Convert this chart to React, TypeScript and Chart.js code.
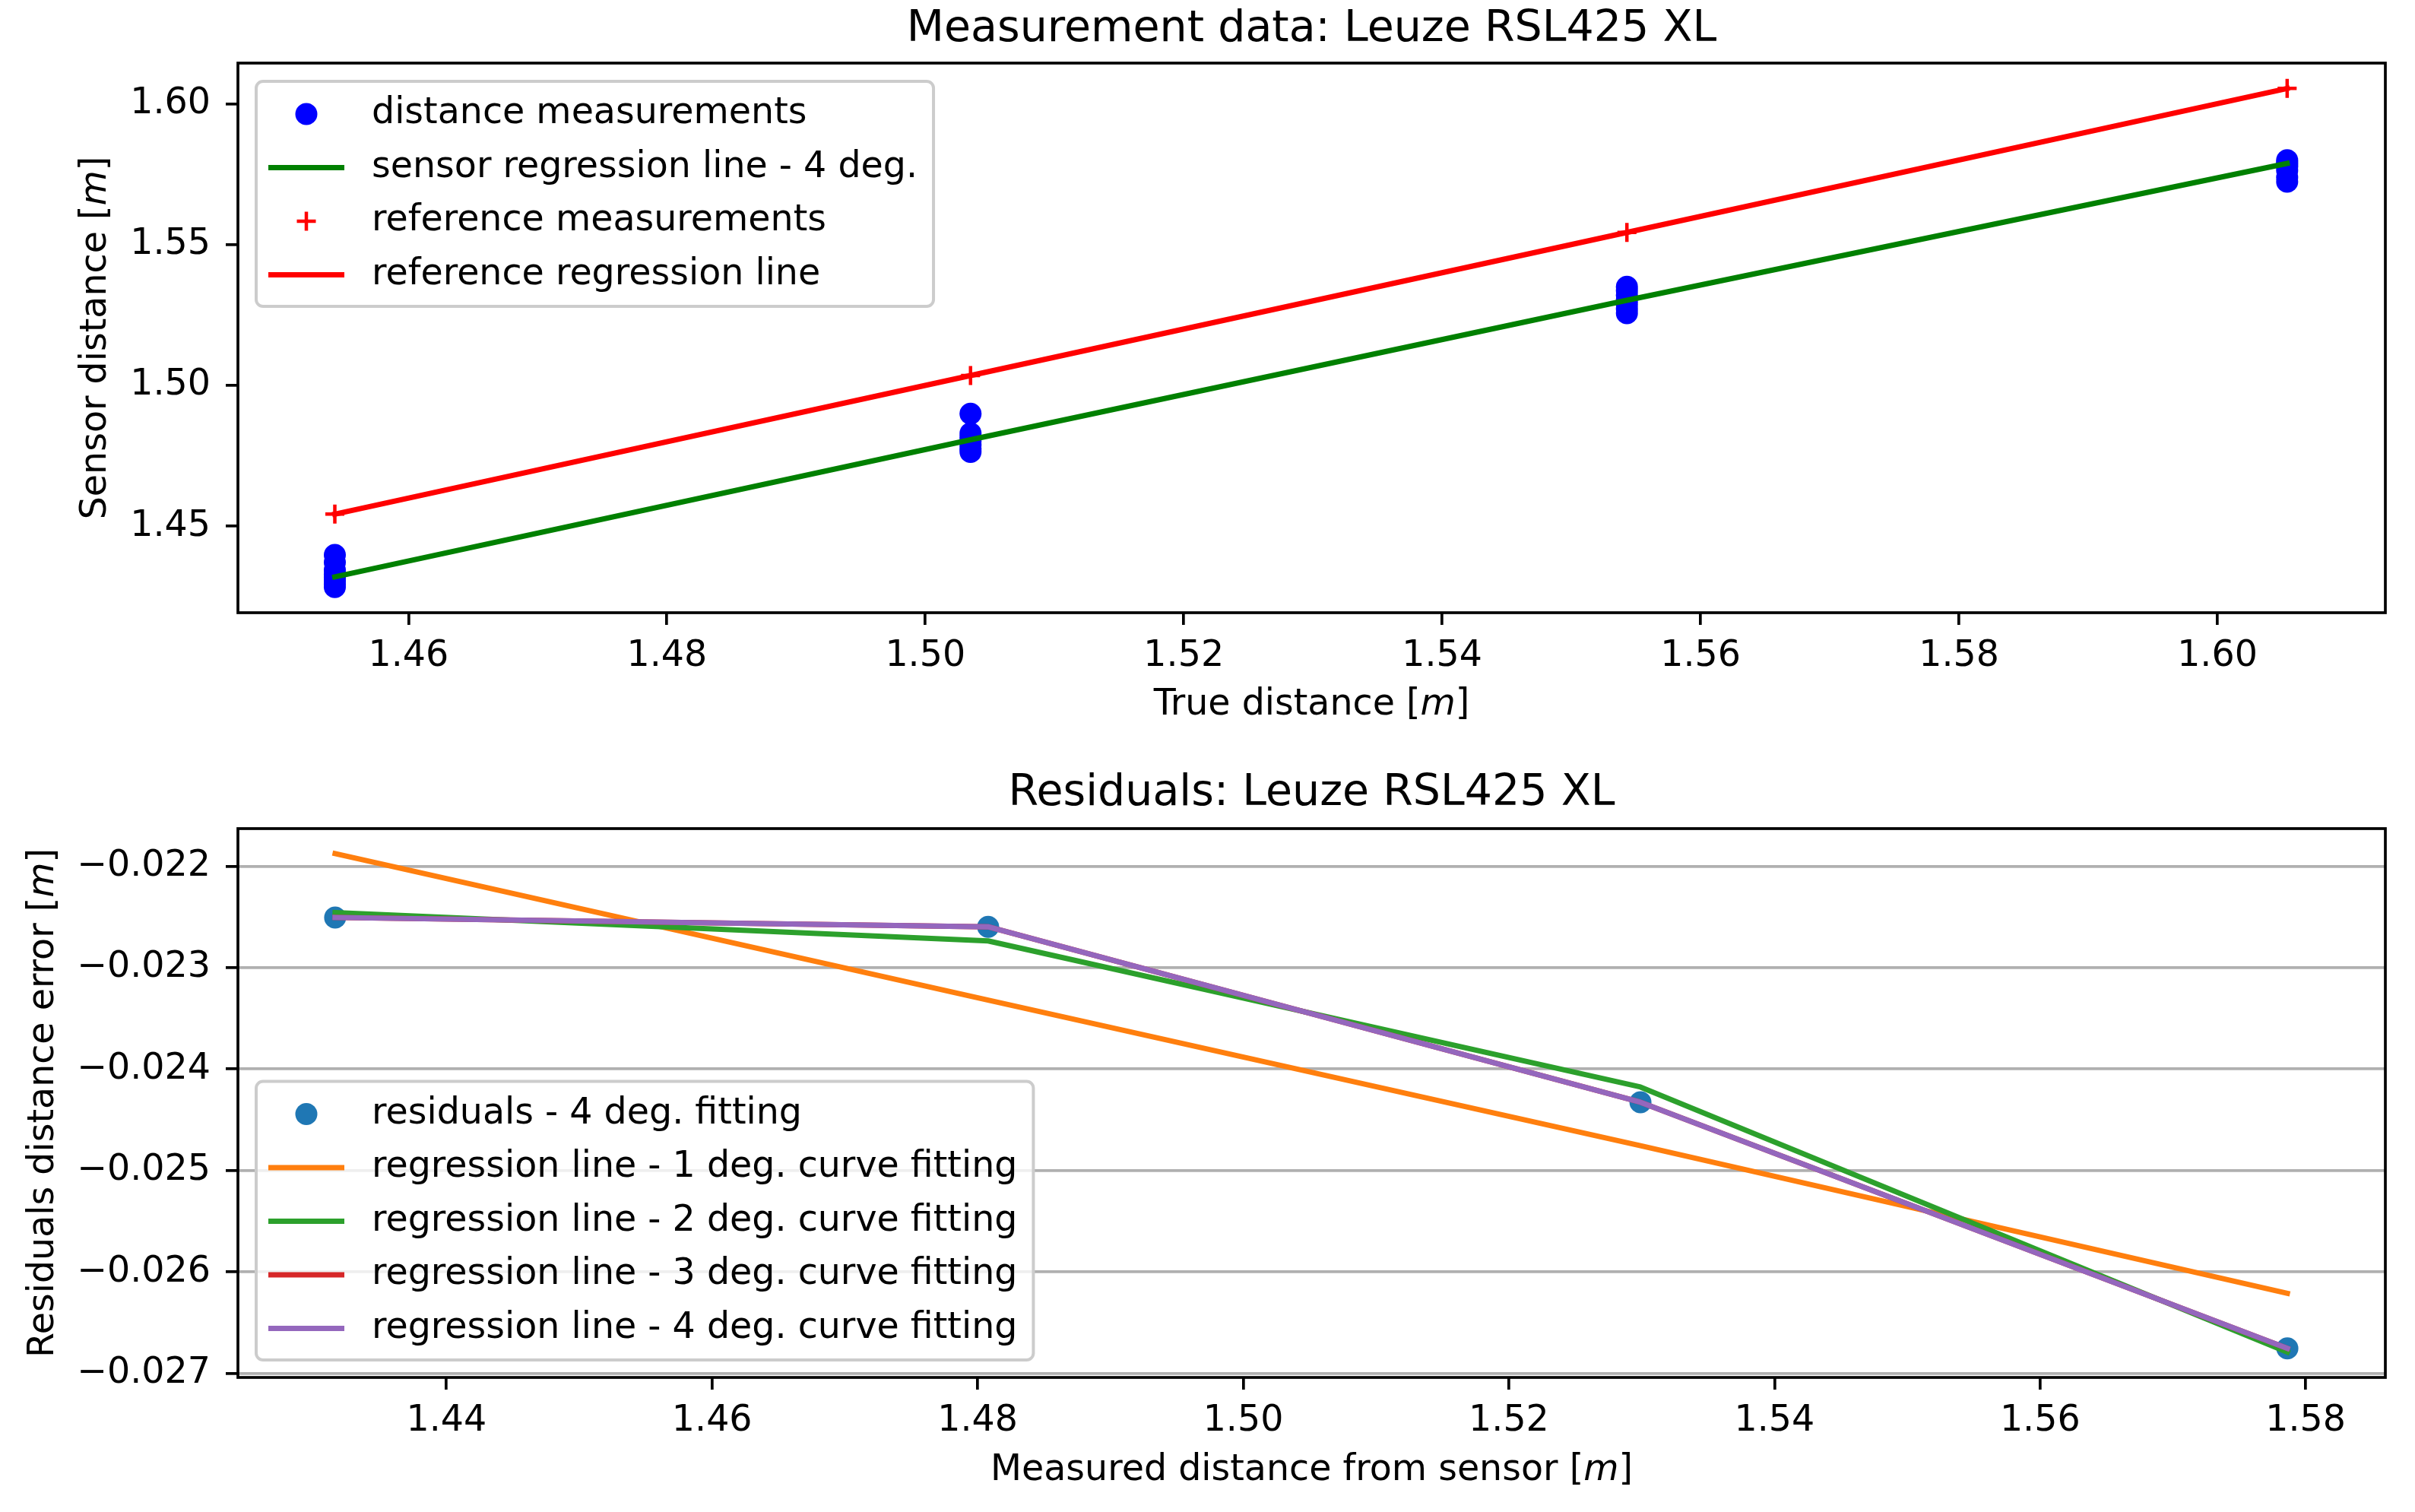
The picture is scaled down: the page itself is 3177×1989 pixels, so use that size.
import React, { useEffect, useRef } from 'react';
import { Chart, registerables } from 'chart.js';

Chart.register(...registerables);

// ---------------- data ----------------
const trueDistances = [1.4543, 1.5035, 1.5543, 1.6054];
const measurementsAt1 = [1.4284, 1.4295, 1.4306, 1.4318, 1.433, 1.4345, 1.4372, 1.4398];
const measurementsAt2 = [1.4899, 1.483, 1.4816, 1.4802, 1.4788, 1.4775, 1.4764];
const measurementsAt3 = [1.535, 1.5336, 1.532, 1.5303, 1.5287, 1.5271, 1.5256];
const measurementsAt4 = [1.5799, 1.5791, 1.5783, 1.5776, 1.5762, 1.5738, 1.5723];
const sensorRegression = [1.432, 1.4807, 1.5302, 1.5788];
const referenceMeasurements = [1.4543, 1.5035, 1.5543, 1.6054];

const measuredDistances = [1.43162, 1.48079, 1.52991, 1.57862];
const residuals4 = [-0.022506, -0.022598, -0.024327, -0.026754];
const fit1 = [-0.021876, -0.02332, -0.024756, -0.026211];
const fit2 = [-0.022458, -0.022737, -0.024177, -0.026791];
const fit3 = [-0.022506, -0.022598, -0.024327, -0.026754];
const fit4 = [-0.022506, -0.022598, -0.024327, -0.026754];

const topXTicks = [1.46, 1.48, 1.5, 1.52, 1.54, 1.56, 1.58, 1.6];
const topYTicks = [1.45, 1.5, 1.55, 1.6];
const botXTicks = [1.44, 1.46, 1.48, 1.5, 1.52, 1.54, 1.56, 1.58];
const botYTicks = [-0.027, -0.026, -0.025, -0.024, -0.023, -0.022];

const topTitle = 'Measurement data: Leuze RSL425 XL';
const botTitle = 'Residuals: Leuze RSL425 XL';
const topXLabel = [{ t: 'True distance [' }, { t: 'm', i: true }, { t: ']' }];
const topYLabel = [{ t: 'Sensor distance [' }, { t: 'm', i: true }, { t: ']' }];
const botXLabel = [{ t: 'Measured distance from sensor [' }, { t: 'm', i: true }, { t: ']' }];
const botYLabel = [{ t: 'Residuals distance error [' }, { t: 'm', i: true }, { t: ']' }];

// ---------------- style ----------------
const FONT = '"DejaVu Sans"';
const TICK_FS = 47.5;
const TITLE_FS = 57;
const LW = 7;
const SPINE = 3.7;
const W = 3177;
const TOP_H = 995;
const BOT_H = 994;

type Seg = { t: string; i?: boolean };

function drawSegs(ctx: CanvasRenderingContext2D, segs: Seg[], cx: number, cy: number, rot: number) {
  ctx.save();
  ctx.translate(cx, cy);
  ctx.rotate(rot);
  ctx.textBaseline = 'middle';
  ctx.textAlign = 'left';
  ctx.fillStyle = '#000';
  const fonts = segs.map((s) => `${s.i ? 'italic ' : ''}${TICK_FS}px ${FONT}`);
  let total = 0;
  const ws = segs.map((s, k) => {
    ctx.font = fonts[k];
    const w = ctx.measureText(s.t).width;
    total += w;
    return w;
  });
  let x = -total / 2;
  segs.forEach((s, k) => {
    ctx.font = fonts[k];
    ctx.fillText(s.t, x, 0);
    x += ws[k];
  });
  ctx.restore();
}

function drawMarker(ctx: CanvasRenderingContext2D, kind: string, color: string, x: number, y: number) {
  ctx.save();
  if (kind === 'dot') {
    ctx.fillStyle = color;
    ctx.beginPath();
    ctx.arc(x, y, 14.5, 0, Math.PI * 2);
    ctx.fill();
  } else if (kind === 'plus') {
    ctx.strokeStyle = color;
    ctx.lineWidth = 4.5;
    ctx.beginPath();
    ctx.moveTo(x - 12.5, y);
    ctx.lineTo(x + 12.5, y);
    ctx.moveTo(x, y - 12.5);
    ctx.lineTo(x, y + 12.5);
    ctx.stroke();
  }
  ctx.restore();
}

type DecorCfg = {
  legendLoc: 'upper left' | 'lower left';
  xLabel: Seg[];
  yLabel: Seg[];
  xLabelY: number;
  yLabelX: number;
};

function makeDecor(cfg: DecorCfg) {
  return {
    id: 'decor',
    afterDatasetsDraw(chart: any) {
      const ctx: CanvasRenderingContext2D = chart.ctx;
      const a = chart.chartArea;
      // frame (all four spines)
      ctx.save();
      ctx.strokeStyle = '#000';
      ctx.lineWidth = SPINE;
      ctx.strokeRect(a.left, a.top, a.right - a.left, a.bottom - a.top);
      ctx.restore();

      // legend
      const items = chart.data.datasets.map((d: any) => ({
        label: d.label as string,
        kind: d.legendKind as string,
        color: d.legendColor as string,
      }));
      ctx.save();
      ctx.font = `${TICK_FS}px ${FONT}`;
      const maxW = Math.max(...items.map((it: any) => ctx.measureText(it.label).width));
      const bw = 152 + maxW + 21;
      const rowGap = 70.5;
      const firstRow = 43;
      const bh = firstRow + (items.length - 1) * rowGap + 41.5;
      const bx = a.left + 24;
      const by = cfg.legendLoc === 'upper left' ? a.top + 24 : a.bottom - 23 - bh;
      const r = 9;
      ctx.beginPath();
      ctx.moveTo(bx + r, by);
      ctx.lineTo(bx + bw - r, by);
      ctx.arcTo(bx + bw, by, bx + bw, by + r, r);
      ctx.lineTo(bx + bw, by + bh - r);
      ctx.arcTo(bx + bw, by + bh, bx + bw - r, by + bh, r);
      ctx.lineTo(bx + r, by + bh);
      ctx.arcTo(bx, by + bh, bx, by + bh - r, r);
      ctx.lineTo(bx, by + r);
      ctx.arcTo(bx, by, bx + r, by, r);
      ctx.closePath();
      ctx.fillStyle = 'rgba(255,255,255,0.8)';
      ctx.fill();
      ctx.strokeStyle = '#cccccc';
      ctx.lineWidth = 4;
      ctx.stroke();
      items.forEach((it: any, k: number) => {
        const cy = by + firstRow + k * rowGap;
        if (it.kind === 'line') {
          ctx.save();
          ctx.strokeStyle = it.color;
          ctx.lineWidth = LW;
          ctx.beginPath();
          ctx.moveTo(bx + 16, cy);
          ctx.lineTo(bx + 116, cy);
          ctx.stroke();
          ctx.restore();
        } else {
          drawMarker(ctx, it.kind, it.color, bx + 66, cy);
        }
        ctx.fillStyle = '#000';
        ctx.textBaseline = 'middle';
        ctx.textAlign = 'left';
        ctx.font = `${TICK_FS}px ${FONT}`;
        ctx.fillText(it.label, bx + 152, cy);
      });
      ctx.restore();

      // axis titles with italic m
      drawSegs(ctx, cfg.xLabel, (a.left + a.right) / 2, cfg.xLabelY, 0);
      drawSegs(ctx, cfg.yLabel, cfg.yLabelX, (a.top + a.bottom) / 2, -Math.PI / 2);
    },
  };
}

function fixedTicks(values: number[]) {
  return (scale: any) => {
    scale.ticks = values.map((v) => ({ value: v }));
  };
}

function xy(xs: number[], ys: number[]) {
  return ys.map((y, i) => ({ x: xs[i], y }));
}

function tickFont() {
  return { family: 'DejaVu Sans', size: TICK_FS, lineHeight: 1.2 };
}

function buildTop(canvas: HTMLCanvasElement) {
  const clusters = [measurementsAt1, measurementsAt2, measurementsAt3, measurementsAt4];
  const dots: { x: number; y: number }[] = [];
  clusters.forEach((c, i) => c.forEach((v) => dots.push({ x: trueDistances[i], y: v })));
  return new Chart(canvas, {
    type: 'line',
    data: {
      datasets: [
        {
          label: 'distance measurements',
          data: dots,
          showLine: false,
          pointRadius: 14.5,
          pointBackgroundColor: '#0000ff',
          pointBorderWidth: 0,
          borderColor: '#0000ff',
          order: 4,
          legendKind: 'dot',
          legendColor: '#0000ff',
        } as any,
        {
          label: 'sensor regression line - 4 deg.',
          data: xy(trueDistances, sensorRegression),
          borderColor: '#008000',
          borderWidth: LW,
          pointRadius: 0,
          tension: 0,
          borderCapStyle: 'square',
          borderJoinStyle: 'round',
          order: 3,
          legendKind: 'line',
          legendColor: '#008000',
        } as any,
        {
          label: 'reference measurements',
          data: xy(trueDistances, referenceMeasurements),
          showLine: false,
          pointStyle: 'cross',
          pointRadius: 12.5,
          pointBorderColor: '#ff0000',
          pointBorderWidth: 4.5,
          borderColor: '#ff0000',
          order: 2,
          legendKind: 'plus',
          legendColor: '#ff0000',
        } as any,
        {
          label: 'reference regression line',
          data: xy(trueDistances, referenceMeasurements),
          borderColor: '#ff0000',
          borderWidth: LW,
          pointRadius: 0,
          tension: 0,
          borderCapStyle: 'square',
          borderJoinStyle: 'round',
          order: 1,
          legendKind: 'line',
          legendColor: '#ff0000',
        } as any,
      ],
    },
    options: {
      animation: false,
      responsive: false,
      devicePixelRatio: 1,
      events: [],
      layout: { padding: { left: 0, right: W - 3138, top: 0, bottom: 0 } },
      plugins: {
        legend: { display: false },
        tooltip: { enabled: false },
        title: {
          display: true,
          fullSize: false,
          text: topTitle,
          color: '#000',
          font: { family: 'DejaVu Sans', size: TITLE_FS, weight: 'normal', lineHeight: 1.2 },
          padding: { top: 5, bottom: 83 - 5 - TITLE_FS * 1.2 },
        },
      },
      scales: {
        x: {
          type: 'linear',
          min: 1.4468,
          max: 1.613,
          afterBuildTicks: fixedTicks(topXTicks),
          afterFit: (s: any) => {
            s.height = TOP_H - 806;
          },
          ticks: {
            callback: (v: any) => Number(v).toFixed(2),
            font: tickFont(),
            color: '#000',
            padding: 13,
            maxRotation: 0,
            autoSkip: false,
          },
          grid: { drawOnChartArea: false, color: '#000', lineWidth: SPINE, tickLength: 16 },
          border: { display: false },
        },
        y: {
          type: 'linear',
          min: 1.4193,
          max: 1.6144,
          afterBuildTicks: fixedTicks(topYTicks),
          afterFit: (s: any) => {
            s.width = 313;
          },
          ticks: {
            callback: (v: any) => Number(v).toFixed(2),
            font: tickFont(),
            color: '#000',
            padding: 20,
            autoSkip: false,
          },
          grid: { drawOnChartArea: false, color: '#000', lineWidth: SPINE, tickLength: 16 },
          border: { display: false },
        },
      },
    } as any,
    plugins: [
      makeDecor({ legendLoc: 'upper left', xLabel: topXLabel, yLabel: topYLabel, xLabelY: 928, yLabelX: 127 }),
    ],
  });
}

function buildBottom(canvas: HTMLCanvasElement) {
  const lineDs = (label: string, ys: number[], color: string, order: number) =>
    ({
      label,
      data: xy(measuredDistances, ys),
      borderColor: color,
      borderWidth: LW,
      pointRadius: 0,
      tension: 0,
      borderCapStyle: 'square',
      borderJoinStyle: 'round',
      order,
      legendKind: 'line',
      legendColor: color,
    }) as any;
  return new Chart(canvas, {
    type: 'line',
    data: {
      datasets: [
        {
          label: 'residuals - 4 deg. fitting',
          data: xy(measuredDistances, residuals4),
          showLine: false,
          pointRadius: 14.5,
          pointBackgroundColor: '#1f77b4',
          pointBorderWidth: 0,
          borderColor: '#1f77b4',
          order: 5,
          legendKind: 'dot',
          legendColor: '#1f77b4',
        } as any,
        lineDs('regression line - 1 deg. curve fitting', fit1, '#ff7f0e', 4),
        lineDs('regression line - 2 deg. curve fitting', fit2, '#2ca02c', 3),
        lineDs('regression line - 3 deg. curve fitting', fit3, '#d62728', 2),
        lineDs('regression line - 4 deg. curve fitting', fit4, '#9467bd', 1),
      ],
    },
    options: {
      animation: false,
      responsive: false,
      devicePixelRatio: 1,
      events: [],
      layout: { padding: { left: 0, right: W - 3138, top: 0, bottom: 0 } },
      plugins: {
        legend: { display: false },
        tooltip: { enabled: false },
        title: {
          display: true,
          fullSize: false,
          text: botTitle,
          color: '#000',
          font: { family: 'DejaVu Sans', size: TITLE_FS, weight: 'normal', lineHeight: 1.2 },
          padding: { top: 15.4, bottom: 95 - 15.4 - TITLE_FS * 1.2 },
        },
      },
      scales: {
        x: {
          type: 'linear',
          min: 1.4243,
          max: 1.586,
          afterBuildTicks: fixedTicks(botXTicks),
          afterFit: (s: any) => {
            s.height = BOT_H - 817;
          },
          ticks: {
            callback: (v: any) => Number(v).toFixed(2),
            font: tickFont(),
            color: '#000',
            padding: 13,
            maxRotation: 0,
            autoSkip: false,
          },
          grid: { drawOnChartArea: false, color: '#000', lineWidth: SPINE, tickLength: 16 },
          border: { display: false },
        },
        y: {
          type: 'linear',
          min: -0.02704,
          max: -0.02163,
          afterBuildTicks: fixedTicks(botYTicks),
          afterFit: (s: any) => {
            s.width = 313;
          },
          ticks: {
            callback: (v: any) => Number(v).toFixed(3).replace('-', '\u2212'),
            font: tickFont(),
            color: '#000',
            padding: 20,
            autoSkip: false,
          },
          grid: {
            drawOnChartArea: true,
            color: '#b0b0b0',
            lineWidth: SPINE,
            tickColor: '#000',
            tickWidth: SPINE,
            tickLength: 16,
          },
          border: { display: false },
        },
      },
    } as any,
    plugins: [
      makeDecor({ legendLoc: 'lower left', xLabel: botXLabel, yLabel: botYLabel, xLabelY: 940, yLabelX: 58 }),
    ],
  });
}

export default function App() {
  const topRef = useRef<HTMLCanvasElement>(null);
  const botRef = useRef<HTMLCanvasElement>(null);
  useEffect(() => {
    Chart.defaults.font.family = 'DejaVu Sans';
    Chart.defaults.color = '#000';
    const c1 = buildTop(topRef.current!);
    const c2 = buildBottom(botRef.current!);
    return () => {
      c1.destroy();
      c2.destroy();
    };
  }, []);
  return (
    <div style={{ position: 'absolute', left: 0, top: 0, width: W, height: TOP_H + BOT_H, background: '#fff' }}>
      <canvas
        ref={topRef}
        width={W}
        height={TOP_H}
        style={{ position: 'absolute', left: 0, top: 0, width: W, height: TOP_H, display: 'block' }}
      />
      <canvas
        ref={botRef}
        width={W}
        height={BOT_H}
        style={{ position: 'absolute', left: 0, top: TOP_H, width: W, height: BOT_H, display: 'block' }}
      />
    </div>
  );
}
